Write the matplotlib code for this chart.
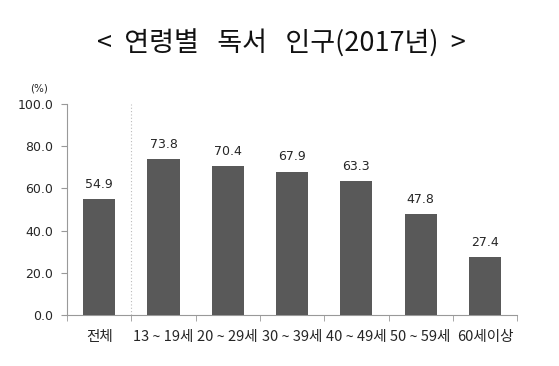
import matplotlib
matplotlib.use("Agg")
import matplotlib.pyplot as plt
import numpy as np

plt.rcParams['font.family'] = ['DejaVu Sans', 'Noto Sans CJK KR']

categories = ['전체', '13 ~ 19세', '20 ~ 29세', '30 ~ 39세', '40 ~ 49세', '50 ~ 59세', '60세이상']
values = [54.9, 73.8, 70.4, 67.9, 63.3, 47.8, 27.4]
yticks = [0, 20, 40, 60, 80, 100]

fig = plt.figure(figsize=(5.59, 3.66), dpi=100)
ax = fig.add_axes([0.12, 0.139, 0.805, 0.577])

txt = '#262626'
x = np.arange(len(categories))
ax.bar(x, values, width=0.5, color='#595959', zorder=3)
for xi, v in zip(x, values):
    ax.text(xi, v + 4, f'{v:.1f}', ha='center', va='bottom', fontsize=9, color=txt)

ax.set_xlim(-0.5, len(categories) - 0.5)
ax.set_ylim(0, 100)
ax.set_yticks(yticks)
ax.set_yticklabels([f'{t:.1f}' for t in yticks], fontsize=9, color=txt)
ax.set_xticks(x)
ax.set_xticklabels(categories, fontsize=10.5, color=txt, family=['Noto Sans CJK KR', 'DejaVu Sans'])
ax.tick_params(axis='x', length=0, pad=11)
ax.set_xticks(np.arange(-0.5, len(categories)), minor=True)
ax.tick_params(axis='x', which='minor', length=4, color='#999999', direction='out')
ax.tick_params(axis='y', length=4, color='#999999', direction='out', pad=6)

for s in ['top', 'right']:
    ax.spines[s].set_visible(False)
ax.spines['left'].set_color('#999999')
ax.spines['bottom'].set_color('#999999')

ax.axvline(0.5, color='#bbbbbb', linestyle=(0, (1, 2)), linewidth=0.8, zorder=1)

fig.text(0.07, 0.758, '(%)', fontsize=7.5, ha='center', va='center', color=txt)
fig.text(0.503, 0.882, '<  연령별   독서   인구(2017년)  >', fontsize=19.5,
         ha='center', va='center', color='#111111', family=['Noto Sans CJK KR', 'DejaVu Sans'])

fig.savefig('out.png', dpi=100)
